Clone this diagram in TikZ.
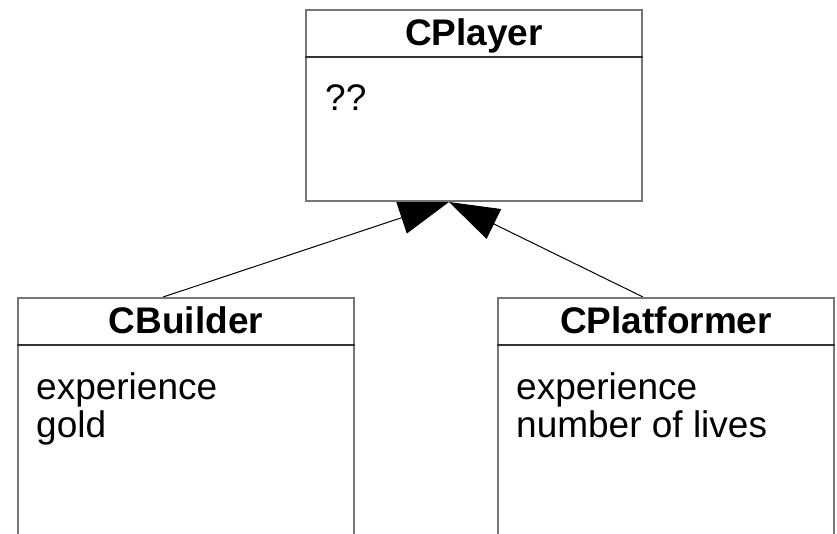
\documentclass[tikz,border=0pt]{standalone}
\usepackage{fontspec}
\setmainfont{Liberation Sans}
\usetikzlibrary{arrows.meta,calc,backgrounds}
\definecolor{framegray}{RGB}{118,118,118}
\definecolor{divgray}{RGB}{50,50,50}
\begin{document}
\begin{tikzpicture}[x=1pt,y=-1pt,
  classbox/.style={draw=framegray, line width=2pt, fill=white, rectangle,
    minimum width=336pt, inner sep=0pt, anchor=north west},
  divider/.style={draw=divgray, line width=2pt},
  classname/.style={anchor=base, inner sep=0pt,
    font=\fontsize{37}{38}\selectfont\bfseries},
  member/.style={anchor=base west, inner sep=0pt,
    font=\fontsize{37}{38}\selectfont},
  inherit/.style={draw=black, line width=1pt,
    -{Triangle[length=50pt,width=33pt]}}]

\clip (0,0) rectangle (837,533);

% class frames
\node[classbox, minimum height=191pt] (player) at (305,9) {};
\node[classbox, minimum height=300pt] (builder) at (17,297) {};
\node[classbox, minimum height=300pt] (platformer) at (497,297) {};

% header separators
\draw[divider] ($(player.north west)+(0,48)$) -- ($(player.north east)+(0,48)$);
\draw[divider] ($(builder.north west)+(0,48)$) -- ($(builder.north east)+(0,48)$);
\draw[divider] ($(platformer.north west)+(0,48)$) -- ($(platformer.north east)+(0,48)$);

% class names
\node[classname] (player-name) at ($(player.north)+(0,36)$) {CPlayer};
\node[classname] (builder-name) at ($(builder.north)+(0,36)$) {CBuilder};
\node[classname] (platformer-name) at ($(platformer.north)+(0,36)$) {CPlatformer};

% members
\node[member] (player-m1) at ($(player.north west)+(20,101)$) {??};
\node[member] (builder-m1) at ($(builder.north west)+(19,102)$) {experience};
\node[member] (builder-m2) at ($(builder.north west)+(19,140)$) {gold};
\node[member] (platformer-m1) at ($(platformer.north west)+(19,102)$) {experience};
\node[member] (platformer-m2) at ($(platformer.north west)+(19,140)$) {number of lives};

% generalisation arrows, kept behind the frames
\begin{pgfonlayer}{background}
  \fill[white] (0,0) rectangle (837,533);
  \draw[inherit] ([xshift=-23pt]builder.north) -- ([xshift=-25pt]player.south);
  \draw[inherit] ([xshift=-23pt]platformer.north) -- ([xshift=-25pt]player.south);
\end{pgfonlayer}
\end{tikzpicture}
\end{document}
